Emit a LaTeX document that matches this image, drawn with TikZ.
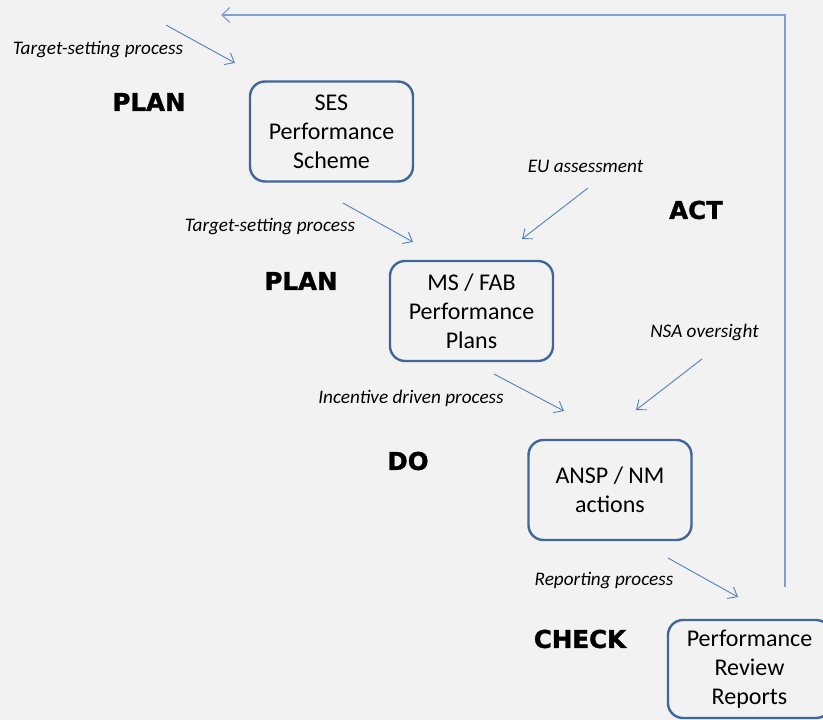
\documentclass[tikz,border=0pt]{standalone}
\usepackage{fontspec}
\setmainfont{Carlito}
\newfontfamily\blackfont{DejaVu Sans}[BoldFeatures={FakeBold=1.3}]
\usetikzlibrary{arrows.meta}
\definecolor{bg}{HTML}{F2F2F2}
\definecolor{boxline}{HTML}{41679A}
\definecolor{arr}{HTML}{4F81BD}
\definecolor{fback}{HTML}{7FA1CF}
\tikzset{
  box/.style={draw=boxline, line width=2.4pt, rounded corners=15pt, minimum width=163pt, minimum height=100pt, inner sep=0pt, align=center, font=\fontsize{24}{29}\selectfont},
  lbl/.style={inner sep=0pt, font=\fontsize{19.2}{22}\selectfont\itshape},
  phase/.style={inner sep=0pt, font=\blackfont\bfseries\fontsize{24.5}{28}\selectfont},
  flow/.style={draw=arr, line width=0.9pt, -{Straight Barb[length=8pt,width=13pt]}},
  loopline/.style={draw=fback, line width=1.2pt, -{Straight Barb[length=8pt,width=15pt]}}
}
\begin{document}
\begin{tikzpicture}[x=1pt,y=-1pt]
\useasboundingbox (0,0) rectangle (823,720);
\fill[bg] (0,0) rectangle (823,720);
\clip (0,0) rectangle (823,720);

\node[box] (ses) at (331.5,131.5) {SES\\Performance\\Scheme};
\node[box] (ms) at (471.5,311) {MS / FAB\\Performance\\Plans};
\node[box] (ansp) at (610,490) {ANSP / NM\\actions};
\node[box, minimum height=98pt] (prr) at (749.5,669) {Performance\\Review\\Reports};

\node[lbl] (t1) at (98,50) {Target-setting process};
\node[lbl] (t2) at (270,227) {Target-setting process};
\node[lbl] (eu) at (585.5,166) {EU assessment};
\node[lbl] (nsa) at (704.5,332) {NSA oversight};
\node[lbl] (inc) at (411,398) {Incentive driven process};
\node[lbl] (rep) at (604,581) {Reporting process};

\node[phase] (plan1) at (149,102) {PLAN};
\node[phase] (plan2) at (301,281) {PLAN};
\node[phase] (act) at (696,210) {ACT};
\node[phase] (do) at (408,461) {DO};
\node[phase] (check) at (580,639) {CHECK};

\coordinate (a1s) at (166,25);  \coordinate (a1e) at (235,63);
\coordinate (a2s) at (343,203); \coordinate (a2e) at (413,242);
\coordinate (a3s) at (588,188); \coordinate (a3e) at (522,239);
\coordinate (a4s) at (494,374); \coordinate (a4e) at (564,411);
\coordinate (a5s) at (702,359); \coordinate (a5e) at (636,410);
\coordinate (a6s) at (668,558); \coordinate (a6e) at (738,597);
\coordinate (fbs) at (785,587); \coordinate (fbc) at (785,15); \coordinate (fbe) at (221,15);

\draw[flow] (a1s) -- (a1e);
\draw[flow] (a2s) -- (a2e);
\draw[flow] (a3s) -- (a3e);
\draw[flow] (a4s) -- (a4e);
\draw[flow] (a5s) -- (a5e);
\draw[flow] (a6s) -- (a6e);
\draw[loopline] (fbs) -- (fbc) -- (fbe);
\end{tikzpicture}
\end{document}
